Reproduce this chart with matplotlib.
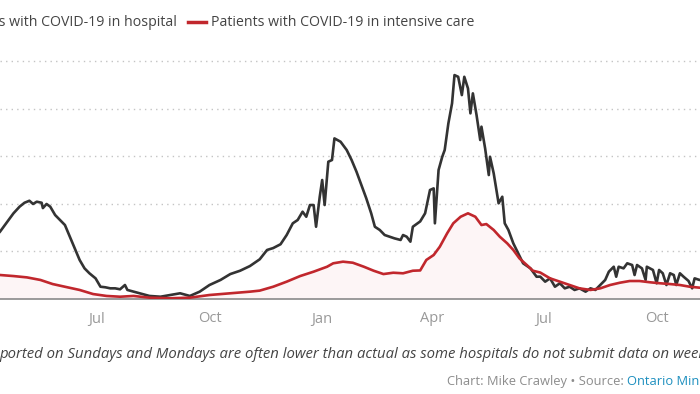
import matplotlib
matplotlib.use("Agg")
import matplotlib.pyplot as plt
import pandas as pd

# days counted from 2020-04-13 (left edge of the visible chart)
start = pd.Timestamp("2020-04-13")

hosp_days = [-4, 0, 6, 11, 16, 20, 24, 27, 30, 34, 35, 38, 41, 45, 49, 53, 57, 61, 65, 69,
             73, 78, 82, 86, 90, 94, 98, 102, 104, 109, 114, 122, 131, 139, 147, 155, 163,
             171, 180, 188, 196, 204, 212, 218, 223, 229, 234, 239, 243, 247, 250, 253, 256,
             258, 261, 263, 265, 268, 271, 273, 278, 280, 283, 287, 291, 295, 299, 303, 306,
             310, 314, 318, 322, 327, 329, 332, 335, 337, 343, 347, 351, 354, 355, 358, 361,
             363, 366, 369, 371, 374, 377, 379, 382, 384, 386, 389, 392, 393, 396, 399, 400,
             403, 407, 410, 412, 415, 419, 423, 427, 433, 438, 441, 445, 449, 453, 457, 461,
             465, 469, 473, 478, 482, 486, 490, 494, 497, 501, 503, 505, 509, 512, 516, 518,
             520, 524, 527, 528, 533, 536, 538, 541, 544, 547, 550, 552, 555, 558, 562, 565,
             567, 571, 575]
hosp_vals = [650, 707, 812, 900, 970, 1011, 1032, 998, 1022, 1011, 955, 998, 970, 882, 830,
             777, 654, 532, 410, 322, 270, 217, 129, 123, 112, 112, 102, 147, 95, 77, 60, 32,
             24, 42, 60, 32, 77, 147, 200, 262, 297, 346, 417, 515, 535, 575, 672, 795, 830,
             917, 864, 987, 987, 759, 1074, 1250, 987, 1442, 1460, 1687, 1652, 1617, 1565,
             1460, 1337, 1197, 1057, 900, 759, 725, 672, 654, 637, 620, 672, 654, 602, 759,
             815, 900, 1145, 1162, 795, 1355, 1494, 1565, 1845, 2055, 2352, 2334, 2142, 2334,
             2212, 1950, 2160, 1932, 1670, 1810, 1582, 1302, 1494, 1320, 1005, 1074, 795, 725,
             585, 480, 375, 322, 234, 235, 182, 217, 129, 165, 112, 129, 95, 112, 77, 112, 95,
             147, 200, 287, 339, 234, 339, 322, 375, 357, 252, 357, 322, 200, 339, 305, 165,
             305, 270, 147, 270, 252, 147, 270, 234, 190, 112, 217, 200, 205]

icu_days = [-4, 0, 11, 22, 33, 43, 55, 65, 76, 87, 98, 109, 122, 139, 155, 171, 188, 204,
            212, 223, 234, 245, 256, 267, 272, 280, 288, 297, 305, 313, 321, 329, 337, 343,
            348, 354, 359, 365, 370, 376, 382, 388, 393, 397, 403, 408, 414, 419, 424, 430,
            435, 441, 449, 457, 465, 473, 482, 490, 498, 506, 514, 522, 531, 539, 547, 555,
            563, 571, 575]
icu_vals = [256, 252, 241, 227, 200, 157, 123, 95, 52, 32, 24, 32, 14, 8, 14, 42, 60, 77, 88,
            129, 182, 241, 287, 339, 375, 392, 381, 339, 297, 262, 276, 270, 297, 300, 410, 462,
            549, 690, 795, 864, 900, 864, 777, 787, 725, 654, 585, 515, 427, 357, 297, 278, 217,
            182, 147, 112, 95, 112, 147, 171, 189, 189, 175, 165, 157, 147, 129, 119, 117]

tick_dates = ["2020-07-01", "2020-10-01", "2021-01-01", "2021-04-01", "2021-07-01", "2021-10-01"]
tick_labels = ["Jul", "Oct", "Jan", "Apr", "Jul", "Oct"]

hosp_x = start + pd.to_timedelta(hosp_days, unit="D")
icu_x = start + pd.to_timedelta(icu_days, unit="D")

plt.rcParams["font.family"] = ["Open Sans", "DejaVu Sans"]

W, H = 700, 394
fig = plt.figure(figsize=(7, 3.94), dpi=100)
ax = fig.add_axes([0, (H - 299) / H, 1, (299 - 61) / H])

ax.fill_between(icu_x, icu_vals, 0, color="#fdf5f6", lw=0, zorder=1)
ax.plot(hosp_x, hosp_vals, color="#333333", lw=1.9, zorder=3)
ax.plot(icu_x, icu_vals, color="#c1272d", lw=1.9, zorder=4)

ax.set_xlim(start, start + pd.Timedelta(days=571.4))
ax.set_ylim(0, 2500)

for v in [500, 1000, 1500, 2000, 2500]:
    ax.axhline(v, color="#c4c4c4", lw=1, ls=(0, (1, 3)), zorder=0, clip_on=False)

for s in ["top", "left", "right"]:
    ax.spines[s].set_visible(False)
ax.spines["bottom"].set_color("#8a8a8a")
ax.spines["bottom"].set_linewidth(1.2)
ax.set_yticks([])
ax.set_xticks(pd.to_datetime(tick_dates))
ax.set_xticklabels(tick_labels, color="#999999", fontsize=10.5)
ax.tick_params(axis="x", length=0, pad=9)

# legend (partly cut off on the left, like the source crop)
fig.text(177 / W, 1 - 22 / H, "Patients with COVID-19 in hospital", ha="right", va="center",
         fontsize=10.2, color="#444444")
fig.add_artist(plt.Line2D([188 / W, 206 / W], [1 - 22 / H, 1 - 22 / H], color="#c1272d", lw=2.5))
fig.text(211 / W, 1 - 22 / H, "Patients with COVID-19 in intensive care", ha="left", va="center",
         fontsize=10.2, color="#444444")

# note line
fig.text(-1 / W, 1 - 355 / H, "Note: Figures re", ha="right", va="center", fontsize=10.7,
         style="italic", color="#444444")
fig.text(-1 / W, 1 - 355 / H,
         "ported on Sundays and Mondays are often lower than actual as some hospitals "
         "do not submit data on weekends.", ha="left", va="center", fontsize=10.7,
         style="italic", color="#444444")

# credit line
credit = fig.text(447 / W, 1 - 382 / H, "Chart: Mike Crawley \u2022 Source: ", ha="left",
                  va="center", fontsize=9.3, color="#8c8c8c")
fig.canvas.draw()
bb = credit.get_window_extent()
fig.text(bb.x1 / W, 1 - 382 / H, "Ontario Ministry of Health", ha="left", va="center",
         fontsize=9.3, color="#1d8fbf")

fig.savefig("out.png", dpi=100)
